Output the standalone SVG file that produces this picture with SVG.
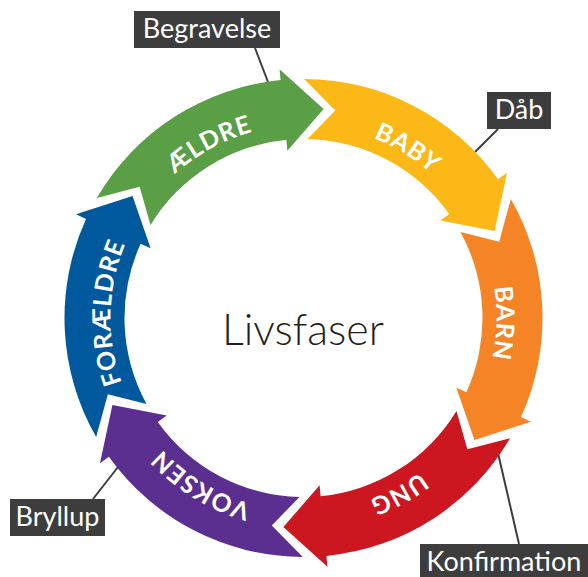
<svg xmlns="http://www.w3.org/2000/svg" xmlns:xlink="http://www.w3.org/1999/xlink" width="588" height="577" viewBox="0 0 588 577">
<style>
.lbl{font-family:Lato,"Noto Sans","Liberation Sans",sans-serif;font-weight:700;font-size:25px;letter-spacing:0.8px;fill:#ffffff}
.box{fill:#3d3d3d}
.ct{font-family:Lato,"Noto Sans","Liberation Sans",sans-serif;font-size:27px;fill:#ffffff;text-anchor:middle}
.ln{stroke:#3d3d3d;stroke-width:2;fill:none}
.title{font-family:Lato,"Noto Sans","Liberation Sans",sans-serif;font-weight:300;font-size:43px;fill:#231f20;text-anchor:middle}
</style>
<defs>
<path id="seg" d="M -217.21 -99.73 A 239 239 0 0 1 -45.60 -234.61 L -47.70 -245.41 L 0 -210 L -32.06 -164.91 L -34.15 -175.71 A 179 179 0 0 0 -161.19 -77.86 L -175.72 -114.99 Z"/>
<path id="tp" d="M -185.52 -53.20 A 193 193 0 0 1 20.17 -191.94"/>
</defs>
<rect width="588" height="577" fill="#ffffff"/>
<g id="connectors">
<line class="ln" x1="255" y1="48" x2="268" y2="82"/>
<line class="ln" x1="498" y1="129" x2="475" y2="152"/>
<line class="ln" x1="519" y1="544" x2="498" y2="453"/>
<line class="ln" x1="93" y1="499" x2="118" y2="467"/>
</g>
<g id="aeldre" transform="translate(303.5 318) rotate(5.5)">
<use xlink:href="#seg" fill="#5a9e45"/>
<text class="lbl"><textPath xlink:href="#tp" startOffset="50%" text-anchor="middle">ÆLDRE</textPath></text>
</g>
<g id="baby" transform="translate(303.5 318) rotate(65.5)">
<use xlink:href="#seg" fill="#fbb817"/>
<text class="lbl"><textPath xlink:href="#tp" startOffset="50%" text-anchor="middle">BABY</textPath></text>
</g>
<g id="barn" transform="translate(303.5 318) rotate(125.5)">
<use xlink:href="#seg" fill="#f58426"/>
<text class="lbl"><textPath xlink:href="#tp" startOffset="50%" text-anchor="middle">BARN</textPath></text>
</g>
<g id="ung" transform="translate(303.5 318) rotate(185.5)">
<use xlink:href="#seg" fill="#cc1720"/>
<text class="lbl"><textPath xlink:href="#tp" startOffset="50%" text-anchor="middle">UNG</textPath></text>
</g>
<g id="voksen" transform="translate(303.5 318) rotate(245.5)">
<use xlink:href="#seg" fill="#5b2f8f"/>
<text class="lbl"><textPath xlink:href="#tp" startOffset="50%" text-anchor="middle">VOKSEN</textPath></text>
</g>
<g id="foraeldre" transform="translate(303.5 318) rotate(305.5)">
<use xlink:href="#seg" fill="#00599c"/>
<text class="lbl"><textPath xlink:href="#tp" startOffset="50%" text-anchor="middle">FORÆLDRE</textPath></text>
</g>
<g id="center">
<text class="title" x="303" y="345">Livsfaser</text>
</g>
<g id="begravelse">
<rect class="box" x="134" y="11" width="146" height="37"/>
<text class="ct" x="207" y="38">Begravelse</text>
</g>
<g id="daab">
<rect class="box" x="487" y="92" width="64" height="37"/>
<text class="ct" x="519" y="119">Dåb</text>
</g>
<g id="konfirmation">
<rect class="box" x="420" y="544" width="168" height="37"/>
<text class="ct" x="504" y="571">Konfirmation</text>
</g>
<g id="bryllup">
<rect class="box" x="10" y="499" width="95" height="37"/>
<text class="ct" x="57.5" y="526">Bryllup</text>
</g>
</svg>
